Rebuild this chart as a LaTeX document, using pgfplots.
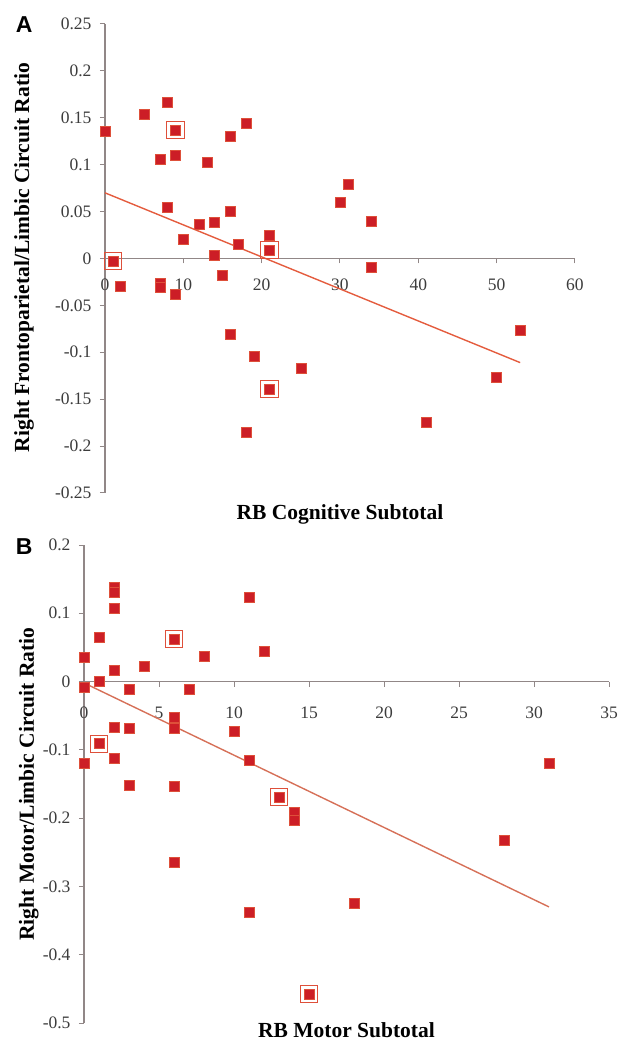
\documentclass[border=0pt]{standalone}
\usepackage{fontspec}
\setmainfont{Liberation Serif}
\newfontfamily\panelfont{Liberation Sans}
\usepackage{pgfplots}
\pgfplotsset{compat=1.18}

\definecolor{ptred}{RGB}{204,30,38}
\definecolor{ptedge}{RGB}{222,80,58}
\definecolor{fitline}{RGB}{228,92,62}
\definecolor{fitlineB}{RGB}{214,112,88}
\definecolor{axisgray}{RGB}{145,135,135}
\definecolor{ticktext}{RGB}{60,60,60}

\pgfplotsset{
  scatterpanel/.style={
    scale only axis,
    axis x line=middle,
    axis y line=left,
    axis line style={-, draw=axisgray, line width=1.2pt},
    tick style={draw=axisgray, line width=1pt},
    tick align=outside,
    major tick length=5pt,
    hide obscured x ticks=false,
    hide obscured y ticks=false,
    ticklabel style={font=\fontsize{17.5}{19}\selectfont, text=ticktext},
    /pgf/number format/assume math mode=true,
    /pgf/number format/fixed,
    /pgf/number format/precision=2,
    scaled y ticks=false,
    scaled x ticks=false,
    yticklabel style={xshift=-5pt},
    clip=false,
  },
  dots/.style={only marks, mark=square*, mark size=5pt,
    mark options={fill=ptred, draw=ptedge, line width=0.5pt}},
  hl/.style={only marks, mark=square, mark size=8.5pt,
    mark options={draw=ptedge, line width=1pt}},
  fit/.style={no marks, draw=fitline, line width=1.4pt},
}
\newcommand\labfont{\fontsize{21.5}{23}\selectfont\bfseries}

\begin{document}
\begin{tikzpicture}
\useasboundingbox (0,0) rectangle (627pt,1042pt);

% panel A
\begin{axis}[scatterpanel,
  at={(105pt,549pt)}, anchor=south west,
  width=470pt, height=469pt,
  xmin=0, xmax=60, ymin=-0.25, ymax=0.25,
  xtick={0,10,...,60},
  ytick={-0.25,-0.2,-0.15,-0.1,-0.05,0,0.05,0.1,0.15,0.2,0.25},
  xticklabel style={yshift=-12pt},
  xlabel={RB Cognitive Subtotal},
  ylabel={Right Frontoparietal/Limbic Circuit Ratio},
  every axis x label/.style={at={(axis description cs:0.5,-0.045)}, anchor=center, font=\labfont},
  every axis y label/.style={at={(axis description cs:-0.172,0.502)}, rotate=90, anchor=center, font=\labfont},
]
\addplot[fit] coordinates {(0,0.070) (53,-0.111)};
\addplot[hl] coordinates {(9,0.137) (21,0.009) (1,-0.003) (21,-0.139)};
\addplot[dots] coordinates {
  (0,0.136) (5,0.154) (8,0.167) (9,0.137) (7,0.106) (9,0.110)
  (13,0.103) (16,0.130) (18,0.144) (8,0.055) (12,0.036) (14,0.039)
  (16,0.050) (10,0.021) (17,0.015) (21,0.025) (21,0.009) (1,-0.003)
  (14,0.003) (2,-0.030) (7,-0.026) (7,-0.031) (9,-0.038) (15,-0.018)
  (16,-0.081) (19,-0.104) (25,-0.117) (21,-0.139) (18,-0.185)
  (31,0.079) (30,0.060) (34,0.040) (34,-0.009) (53,-0.077)
  (50,-0.127) (41,-0.175)
};
\node[font=\panelfont\bfseries\fontsize{23}{24}\selectfont]
  at (axis description cs:-0.172,0.998) {A};
\end{axis}

% panel B
\begin{axis}[scatterpanel,
  at={(84pt,19pt)}, anchor=south west,
  width=525pt, height=478pt,
  xmin=0, xmax=35, ymin=-0.5, ymax=0.2,
  xtick={0,5,...,35},
  ytick={-0.5,-0.4,-0.3,-0.2,-0.1,0,0.1,0.2},
  xticklabel style={yshift=-17pt},
  xlabel={RB Motor Subtotal},
  ylabel={Right Motor/Limbic Circuit Ratio},
  every axis x label/.style={at={(axis description cs:0.5,-0.015)}, anchor=center, font=\labfont},
  every axis y label/.style={at={(axis description cs:-0.105,0.5)}, rotate=90, anchor=center, font=\labfont},
]
\addplot[fit, draw=fitlineB] coordinates {(0,-0.002) (31,-0.330)};
\addplot[hl] coordinates {(1,-0.091) (6,0.062) (13,-0.169) (15,-0.458)};
\addplot[dots] coordinates {
  (0,0.035) (0,-0.008) (0,-0.120) (1,0.065) (1,0.001) (1,-0.091)
  (2,0.138) (2,0.131) (2,0.107) (2,0.017) (2,-0.067) (2,-0.112)
  (3,-0.011) (3,-0.069) (4,0.022) (6,0.062) (6,-0.052) (6,-0.068)
  (7,-0.011) (8,0.037) (10,-0.073) (11,0.124) (11,-0.115) (12,0.045)
  (3,-0.152) (6,-0.154) (6,-0.264) (11,-0.338) (13,-0.169)
  (14,-0.191) (14,-0.203) (15,-0.458) (18,-0.325) (28,-0.233)
  (31,-0.120)
};
\node[font=\panelfont\bfseries\fontsize{23}{24}\selectfont]
  at (axis description cs:-0.114,0.996) {B};
\end{axis}
\end{tikzpicture}
\end{document}
